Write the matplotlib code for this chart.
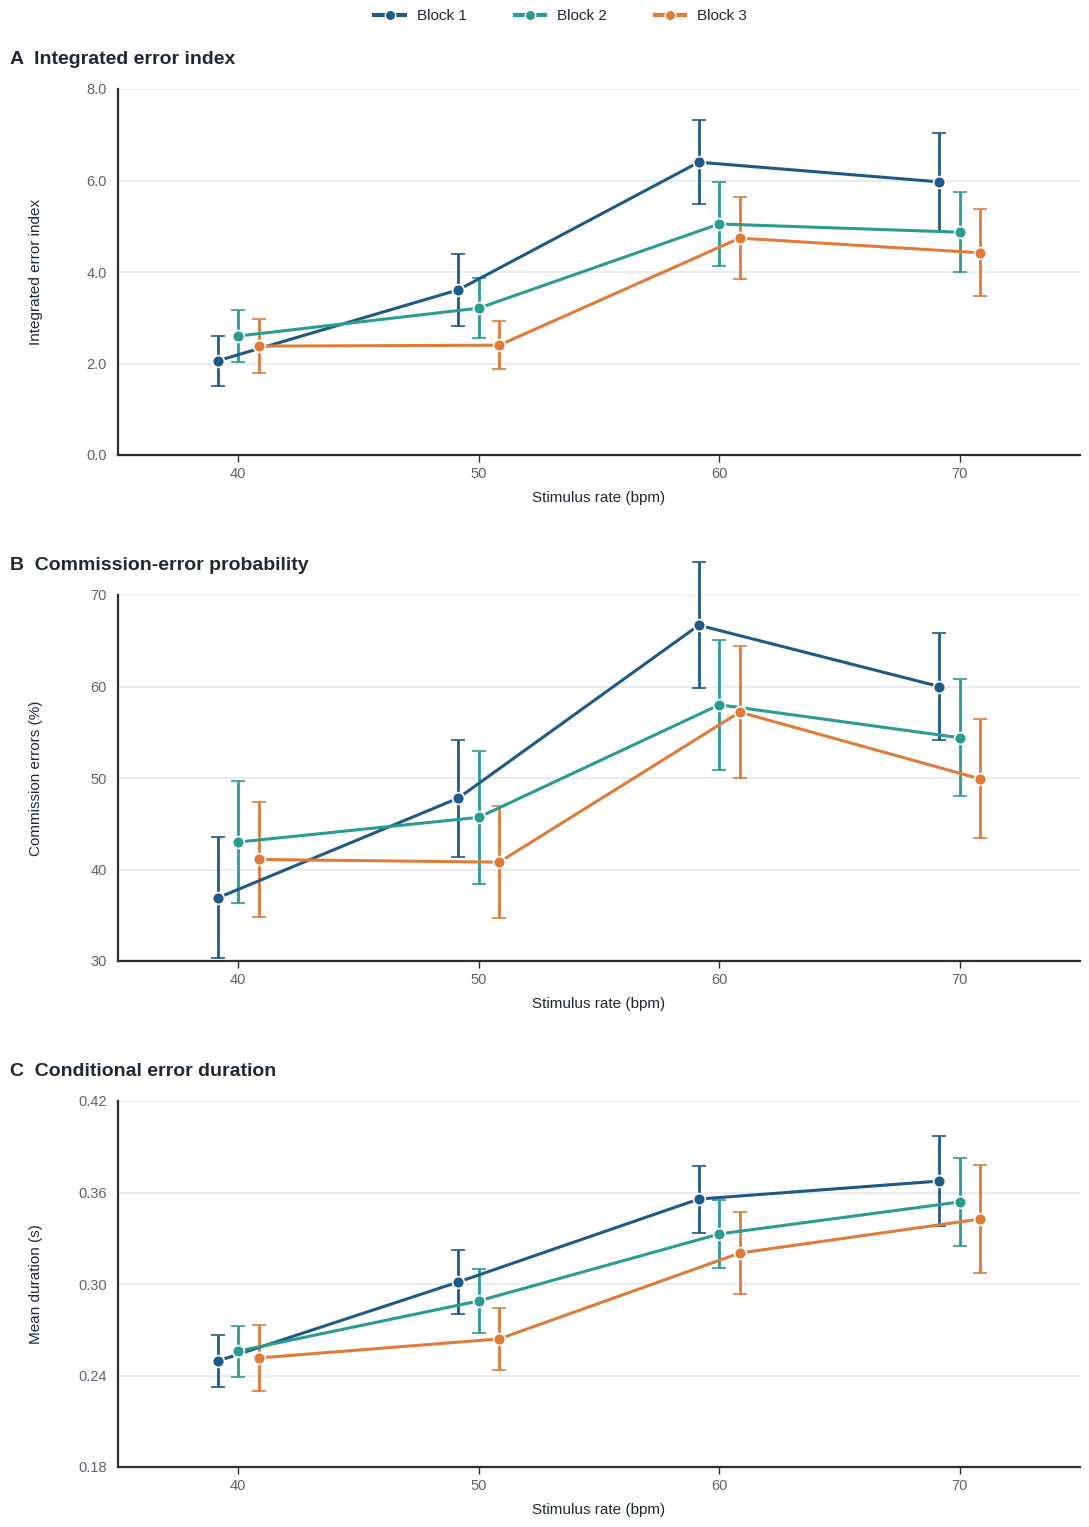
import matplotlib.pyplot as plt
from matplotlib.lines import Line2D
from matplotlib.ticker import FormatStrFormatter

plt.rcParams['font.family'] = ['Liberation Sans', 'DejaVu Sans']

rates = [40, 50, 60, 70]
blocks = ["Block 1", "Block 2", "Block 3"]
colors = ["#1f5a87", "#2a9d8f", "#e07b3a"]
offsets = [-0.85, 0.0, 0.85]

# Panel A: integrated error index (mean, error)
index_mean = [
    [2.06, 3.61, 6.40, 5.97],
    [2.60, 3.21, 5.05, 4.87],
    [2.38, 2.40, 4.74, 4.42],
]
index_err = [
    [0.55, 0.79, 0.92, 1.07],
    [0.57, 0.65, 0.92, 0.87],
    [0.59, 0.52, 0.90, 0.95],
]

# Panel B: commission errors (%)
comm_mean = [
    [36.9, 47.8, 66.7, 60.0],
    [43.0, 45.7, 58.0, 54.4],
    [41.1, 40.8, 57.2, 49.9],
]
comm_err = [
    [6.6, 6.4, 6.9, 5.85],
    [6.7, 7.3, 7.1, 6.4],
    [6.3, 6.1, 7.25, 6.5],
]

# Panel C: conditional error duration (s)
dur_mean = [
    [0.2495, 0.3013, 0.3557, 0.3675],
    [0.2560, 0.2889, 0.3328, 0.3538],
    [0.2515, 0.2640, 0.3203, 0.3426],
]
dur_err = [
    [0.017, 0.021, 0.022, 0.0295],
    [0.0167, 0.021, 0.0225, 0.029],
    [0.0215, 0.0205, 0.0266, 0.0354],
]

panels = [
    ("A", "Integrated error index", "Integrated error index", index_mean, index_err,
     (0.0, 8.0), [0, 2, 4, 6, 8], "%.1f"),
    ("B", "Commission-error probability", "Commission errors (%)", comm_mean, comm_err,
     (30, 70), [30, 40, 50, 60, 70], "%d"),
    ("C", "Conditional error duration", "Mean duration (s)", dur_mean, dur_err,
     (0.18, 0.42), [0.18, 0.24, 0.30, 0.36, 0.42], "%.2f"),
]

W, H = 1089, 1527
fig = plt.figure(figsize=(W / 100, H / 100), dpi=100)

tops = [89, 595, 1101]
ax_h = 366
left, right = 118, 1080
text_dark = "#1f2933"
tick_gray = "#5b6472"

for (letter, title, ylabel, means, errs, ylim, yticks, fmt), top in zip(panels, tops):
    ax = fig.add_axes([left / W, 1 - (top + ax_h) / H, (right - left) / W, ax_h / H])
    for i in range(3):
        xs = [r + offsets[i] for r in rates]
        ax.errorbar(xs, means[i], yerr=errs[i], color=colors[i], lw=2.2,
                    elinewidth=2.0, capsize=5, capthick=2.0,
                    marker="o", ms=8.5, mec="white", mew=1.2,
                    zorder=3, clip_on=False)
    ax.set_xlim(35, 75)
    ax.set_ylim(*ylim)
    ax.set_xticks(rates)
    ax.set_yticks(yticks)
    ax.yaxis.set_major_formatter(FormatStrFormatter(fmt))
    ax.grid(axis="y", color="#e1e6ec", lw=1.1, zorder=0)
    for s in ["top", "right"]:
        ax.spines[s].set_visible(False)
    for s in ["left", "bottom"]:
        ax.spines[s].set_color("#2b3038")
        ax.spines[s].set_linewidth(1.6)
    ax.tick_params(axis="x", length=5, width=1, color="#2b3038", labelsize=10.5,
                   labelcolor=tick_gray, pad=4)
    ax.tick_params(axis="y", length=0, labelsize=10.5, labelcolor=tick_gray, pad=8)
    ax.set_xlabel("Stimulus rate (bpm)", fontsize=11, color=text_dark, labelpad=7)
    ax.set_ylabel(ylabel, fontsize=11, color=text_dark)
    ax.yaxis.set_label_coords((43 - left) / (right - left), 0.5)
    fig.text(10 / W, 1 - (top - 29) / H, f"{letter}  {title}", fontsize=14,
             fontweight="bold", color=text_dark, va="center", ha="left")

handles = [Line2D([], [], color=c, lw=3, marker="o", ms=7.5, mec="white", mew=1.0)
           for c in colors]
fig.legend(handles, blocks, loc="center", bbox_to_anchor=(0.515, 1 - 16 / H),
           ncol=3, frameon=False, fontsize=11, handlelength=2.0,
           columnspacing=3.1, labelcolor=text_dark)

fig.savefig("out.png", dpi=100, facecolor="white")
